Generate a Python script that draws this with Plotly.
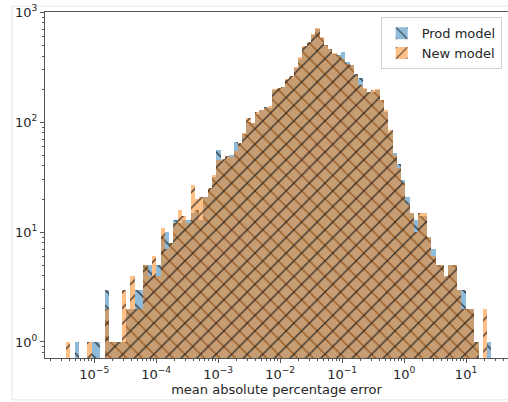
import numpy as np
import plotly.graph_objects as go

# ---- data ----
LOG_MIN = -5.456      # log10 of lower edge of first bin
LOG_MAX = 1.479       # log10 of upper edge of last bin
N_BINS = 100

new_model = [
    1, 0, 0, 0, 0, 1, 0, 0, 0, 2,
    1, 1, 1, 3, 2, 4, 2, 2, 5, 4,
    6, 4, 11, 7, 8, 12, 16, 14, 12, 27,
    20, 21, 21, 25, 33, 45, 46, 49, 48, 55,
    65, 80, 110, 99, 125, 130, 135, 140, 200, 205,
    210, 245, 262, 320, 390, 490, 540, 630, 725, 600,
    500, 460, 430, 400, 380, 340, 335, 270, 220, 205,
    190, 195, 200, 160, 128, 85, 50, 38, 28, 18,
    15, 10, 15, 15, 9, 6, 5, 5, 4, 5,
    5, 3, 2, 2, 2, 1, 0, 2, 0, 0,
]
prod_model = [
    0, 0, 1, 0, 0, 0, 1, 1, 0, 3,
    1, 1, 1, 1, 2, 2, 3, 3, 5, 5,
    4, 5, 9, 10, 8, 13, 12, 13, 13, 15,
    16, 13, 21, 24, 32, 56, 44, 47, 50, 66,
    63, 78, 100, 98, 120, 128, 137, 135, 195, 200,
    208, 240, 255, 310, 380, 480, 530, 620, 700, 590,
    500, 460, 420, 410, 440, 350, 330, 275, 255, 200,
    190, 190, 195, 158, 125, 80, 52, 42, 30, 21,
    15, 13, 14, 14, 9, 7, 5, 5, 4, 5,
    5, 3, 3, 2, 2, 1, 0, 0, 1, 0,
]
series_names = ["Prod model", "New model"]
x_tick_exps = [-5, -4, -3, -2, -1, 0, 1]
y_tick_exps = [0, 1, 2, 3]

# ---- bins (log-spaced); bars span [lo, hi] exactly in data units ----
edges = 10 ** np.linspace(LOG_MIN, LOG_MAX, N_BINS + 1)
lo, hi = edges[:-1], edges[1:]
mid = (lo + hi) / 2
widths = hi - lo

def nz(v):
    return [c if c > 0 else None for c in v]

fig = go.Figure()
fig.add_trace(go.Bar(
    x=mid, y=nz(prod_model), name=series_names[0], width=widths,
    marker=dict(color="rgba(31,119,180,0.5)", line=dict(width=0),
                pattern=dict(shape="\\", fillmode="overlay", fgcolor="#1a1a1a",
                             fgopacity=0.8, size=11, solidity=0.13)),
))
fig.add_trace(go.Bar(
    x=mid, y=nz(new_model), name=series_names[1], width=widths,
    marker=dict(color="rgba(255,127,14,0.5)", line=dict(width=0),
                pattern=dict(shape="/", fillmode="overlay", fgcolor="#1a1a1a",
                             fgopacity=0.8, size=11, solidity=0.13)),
))

minor_x = [m * 10.0 ** e for e in range(-6, 2) for m in range(2, 10)]
minor_y = [m * 10.0 ** e for e in range(-1, 3) for m in range(2, 10)]

font = dict(family="DejaVu Sans", size=13, color="#262626")
fig.update_layout(
    width=508, height=402,
    margin=dict(l=45, r=0, t=12, b=44),
    paper_bgcolor="white", plot_bgcolor="white",
    barmode="overlay", bargap=0,
    font=font,
    showlegend=True,
    legend=dict(x=0.725, y=0.985, xanchor="left", yanchor="top",
                bgcolor="rgba(255,255,255,0.85)", bordercolor="#d0d0d0",
                borderwidth=1, font=dict(family="DejaVu Sans", size=13, color="#262626"),
                traceorder="normal", tracegroupgap=0, itemwidth=30),
    xaxis=dict(
        type="log", range=[-5.794, 1.677],
        tickvals=[10.0 ** e for e in x_tick_exps],
        ticktext=["10<sup>\u2212%d</sup>" % -e if e < 0 else "10<sup>%d</sup>" % e for e in x_tick_exps],
        tickfont=font,
        ticks="outside", ticklen=4, tickwidth=1, tickcolor="#555",
        minor=dict(tickvals=minor_x, ticks="outside", ticklen=2, tickwidth=1, tickcolor="#555"),
        showline=True, linecolor="#555", linewidth=1.3, mirror=True,
        showgrid=False, zeroline=False,
        title=dict(text="mean absolute percentage error", font=font, standoff=2),
    ),
    yaxis=dict(
        type="log", range=[-0.146, 3.003],
        tickvals=[10.0 ** e for e in y_tick_exps],
        ticktext=["10<sup>%d</sup>" % e for e in y_tick_exps],
        tickfont=font, ticklabeloverflow="allow",
        ticks="outside", ticklen=4, tickwidth=1, tickcolor="#555",
        minor=dict(tickvals=minor_y, ticks="outside", ticklen=2, tickwidth=1, tickcolor="#555"),
        showline=True, linecolor="#555", linewidth=1.3, mirror=False,
        showgrid=False, zeroline=False,
    ),
    shapes=[dict(type="rect", xref="paper", yref="paper",
                 x0=-0.0713, x1=1.05, y0=-0.121, y1=1.017,
                 line=dict(color="#e4e4e4", width=1), layer="below")],
)

fig.write_html("out.html",
               config={"displayModeBar": False},
               post_script="document.body.style.margin='0';")
